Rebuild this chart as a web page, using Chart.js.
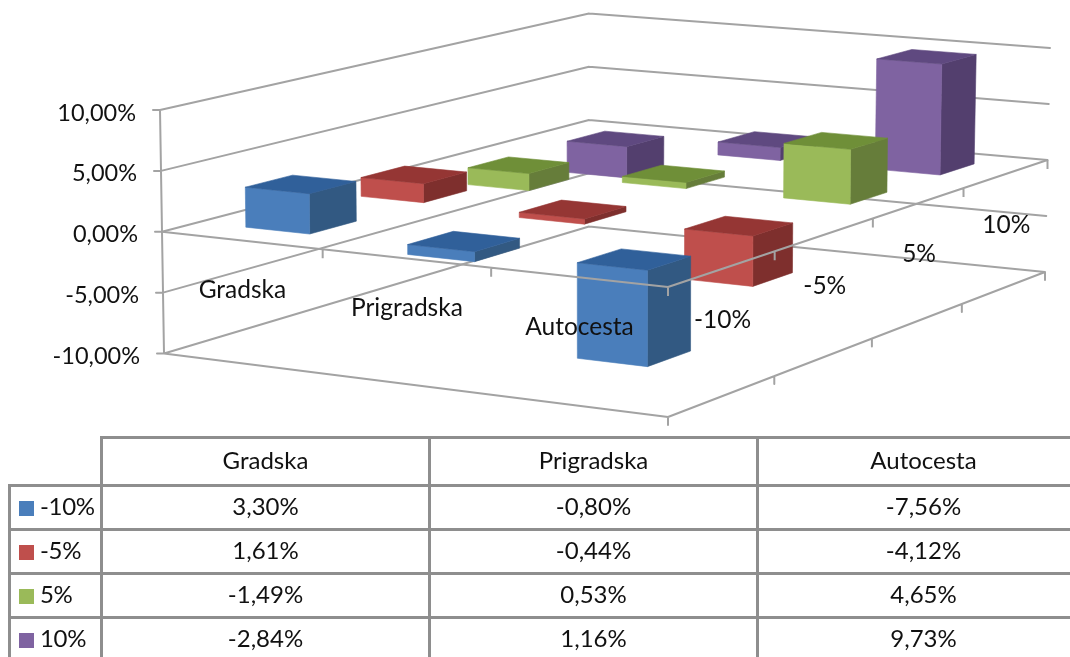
<!DOCTYPE html>
<html><head><meta charset="utf-8">
<script src="https://cdn.jsdelivr.net/npm/chart.js@4"></script>
<style>
html,body{margin:0;padding:0;background:#fff;width:1070px;height:657px;overflow:hidden}
#wrap{position:relative;width:1070px;height:657px;overflow:hidden;font-family:Lato,sans-serif;color:#111}
canvas{position:absolute;left:0;top:0}
table{position:absolute;left:8px;top:435.5px;border-collapse:collapse;table-layout:fixed;width:1080px;font-size:24px;text-align:center}
td{border:3px solid #8e8e8e;padding:0 0 3px 0;height:38px;white-space:nowrap}
td.blank{border-top:none;border-left:none}
td.key{text-align:left;padding-left:8px;letter-spacing:-0.3px}
tr.head td{height:42px}
.sw{display:inline-block;width:15px;height:15px;margin-right:6px;vertical-align:-1px}
</style></head><body>
<div id="wrap"><canvas id="c" width="1070" height="657"></canvas>
<table id="t"><colgroup><col style="width:92px"><col style="width:328px"><col style="width:328px"><col style="width:332px"></colgroup></table></div>
<script>
const categories = ['Gradska', 'Prigradska', 'Autocesta'];
const seriesNames = ['-10%', '-5%', '5%', '10%'];
const valuesMinus10 = [3.30, -0.80, -7.56];
const valuesMinus5 = [1.61, -0.44, -4.12];
const valuesPlus5 = [-1.49, 0.53, 4.65];
const valuesPlus10 = [-2.84, 1.16, 9.73];
const tickValues = [-10, -5, 0, 5, 10];

const FRONT = ['#4a7ebb', '#bf4f4c', '#9aba59', '#7f63a1'];
const SIDE = ['#325982', '#7e2f2d', '#667d3a', '#533f6e'];
const TOP = ['#30609a', '#953634', '#6f8f38', '#5f4980'];
const GRID = '#a3a3a3';
const BAR_HALF = 0.2; // share of one cell on each side of its centre

// Projection frame: wall corners at the lowest and highest value of the axis
const FLOOR = {a:[164,353.5], b:[668,417], c:[1045,272], d:[589,226.5]};
const CEIL  = {a:[160,110],   b:[668,157], c:[1050,48],  d:[589,13.5]};

const fmt = v => v.toFixed(2).replace('.', ',') + '%';
const lerp = (p, q, f) => [p[0] + (q[0]-p[0])*f, p[1] + (q[1]-p[1])*f];

function levelOf(y, value){ return (y.bottom - y.getPixelForValue(value)) / (y.bottom - y.top); }

// unit square -> quad homography at height f
function project(u, v, f){
  const p0 = lerp(FLOOR.a, CEIL.a, f), p1 = lerp(FLOOR.b, CEIL.b, f),
        p2 = lerp(FLOOR.c, CEIL.c, f), p3 = lerp(FLOOR.d, CEIL.d, f);
  const dx1 = p1[0]-p2[0], dx2 = p3[0]-p2[0], sx = p0[0]-p1[0]+p2[0]-p3[0];
  const dy1 = p1[1]-p2[1], dy2 = p3[1]-p2[1], sy = p0[1]-p1[1]+p2[1]-p3[1];
  const den = dx1*dy2 - dx2*dy1;
  const g = (sx*dy2 - dx2*sy)/den, h = (dx1*sy - sx*dy1)/den;
  const a = p1[0]-p0[0]+g*p1[0], b = p3[0]-p0[0]+h*p3[0], c = p0[0];
  const d = p1[1]-p0[1]+g*p1[1], e = p3[1]-p0[1]+h*p3[1], k = p0[1];
  const w = g*u + h*v + 1;
  return [(a*u + b*v + c)/w, (d*u + e*v + k)/w];
}

function poly(ctx, pts, fill){
  ctx.beginPath();
  pts.forEach((p, i) => i ? ctx.lineTo(p[0], p[1]) : ctx.moveTo(p[0], p[1]));
  ctx.closePath();
  ctx.fillStyle = fill; ctx.strokeStyle = fill; ctx.lineWidth = 0.6;
  ctx.fill(); ctx.stroke();
}

class Bar3D extends Chart.BarController {
  draw(){
    const meta = this.getMeta(), ctx = this.chart.ctx;
    const x = meta.iScale, y = meta.vScale, j = this.index, n = seriesNames.length;
    const hu = BAR_HALF / categories.length, hv = BAR_HALF / n;
    const vc = (j + 0.5) / n;
    ctx.save();
    meta.data.forEach((el, i) => {
      const uc = (x.getPixelForValue(i) - x.left) / x.width;
      const val = this.getParsed(i).y;
      const f0 = levelOf(y, 0), f1 = levelOf(y, val);
      const hi = Math.max(f0, f1), lo = Math.min(f0, f1);
      const u0 = uc-hu, u1 = uc+hu, v0 = vc-hv, v1 = vc+hv;
      const P = (u, v, f) => project(u, v, f);
      poly(ctx, [P(u1,v0,lo), P(u1,v1,lo), P(u1,v1,hi), P(u1,v0,hi)], SIDE[j]);
      poly(ctx, [P(u0,v0,lo), P(u1,v0,lo), P(u1,v0,hi), P(u0,v0,hi)], FRONT[j]);
      poly(ctx, [P(u0,v0,hi), P(u1,v0,hi), P(u1,v1,hi), P(u0,v1,hi)], TOP[j]);
    });
    ctx.restore();
  }
}
Bar3D.id = 'bar3d';
Bar3D.defaults = Chart.BarController.defaults;
Chart.register(Bar3D);

function seg(ctx, p, q){ ctx.moveTo(p[0], p[1]); ctx.lineTo(q[0], q[1]); }

const frame = {
  id: 'frame',
  beforeDraw(chart){
    // axis labels follow the slightly slanted wall edge and sit just under their tick
    const y = chart.scales.y;
    if (y.$shifted) return;
    y.getLabelItems().forEach((it, i) => {
      const f = levelOf(y, tickValues[i]);
      it.options.translation[0] += (1 - f) * 4;
      it.options.translation[1] += 3;
    });
    y.$shifted = true;
  },
  beforeDatasetsDraw(chart){
    const ctx = chart.ctx, y = chart.scales.y;
    ctx.save(); ctx.strokeStyle = GRID; ctx.lineWidth = 2; ctx.lineCap = 'round';
    ctx.beginPath();
    tickValues.forEach(t => {
      const f = levelOf(y, t);
      const p = project(0,0,f);
      seg(ctx, [p[0]-7, p[1]], p);
      seg(ctx, p, project(0,1,f));
      seg(ctx, project(0,1,f), project(1,1,f));
    });
    seg(ctx, project(0,0,0), project(0,0,1));
    const f = 0;
    seg(ctx, project(0,0,f), project(1,0,f));
    seg(ctx, project(1,0,f), project(1,1,f));
    // floor ticks along the depth edge
    for (let j = 0; j <= seriesNames.length; j++){
      const p = project(1, j/seriesNames.length, f);
      seg(ctx, p, [p[0], p[1]+8]);
    }
    ctx.stroke(); ctx.restore();
  },
  afterDatasetsDraw(chart){
    const ctx = chart.ctx, y = chart.scales.y, f0 = levelOf(y, 0);
    const nc = categories.length, ns = seriesNames.length;
    ctx.save(); ctx.strokeStyle = GRID; ctx.lineWidth = 2;
    ctx.beginPath();
    seg(ctx, project(0,0,f0), project(1,0,f0));
    seg(ctx, project(1,0,f0), project(1,1,f0));
    for (let i = 1; i <= nc; i++){ const p = project(i/nc,0,f0); seg(ctx, p, [p[0], p[1]+9]); }
    for (let j = 1; j <= ns; j++){ const p = project(1,j/ns,f0); seg(ctx, p, [p[0], p[1]+9]); }
    ctx.stroke();
    ctx.fillStyle = '#111'; ctx.font = '24.5px Lato'; ctx.textAlign = 'center'; ctx.textBaseline = 'middle';
    categories.forEach((c, i) => {
      const p = project((i+0.5)/nc, 0, f0);
      ctx.fillText(c, p[0] + 1, p[1] + 49.5);
    });
    seriesNames.forEach((s, j) => {
      const p = project(1, (j+0.5)/ns, f0);
      ctx.fillText(s, p[0], p[1] + 51.5);
    });
    ctx.restore();
  }
};

new Chart(document.getElementById('c'), {
  type: 'bar3d',
  data: {
    labels: categories,
    datasets: [
      {label: seriesNames[0], data: valuesMinus10, backgroundColor: FRONT[0], clip: false},
      {label: seriesNames[1], data: valuesMinus5, backgroundColor: FRONT[1], clip: false},
      {label: seriesNames[2], data: valuesPlus5, backgroundColor: FRONT[2], clip: false},
      {label: seriesNames[3], data: valuesPlus10, backgroundColor: FRONT[3], clip: false}
    ]
  },
  options: {
    responsive: false, animation: false, devicePixelRatio: 1,
    layout: {padding: {top: 110, bottom: 303.5, left: 0, right: 20}},
    plugins: {legend: {display: false}, tooltip: {enabled: false}},
    scales: {
      x: {type: 'category', display: false, offset: true},
      y: {
        type: 'linear', min: -10, max: 10, position: 'left',
        afterFit(s){ s.width = 160; },
        afterBuildTicks(s){ s.ticks = tickValues.map(v => ({value: v})); },
        border: {display: false},
        grid: {drawOnChartArea: false, drawTicks: false},
        ticks: {color: '#111', font: {family: 'Lato', size: 23.5}, padding: 24, callback: v => fmt(v)}
      }
    }
  },
  plugins: [frame]
});

// data table under the plot
const t = document.getElementById('t');
let html = '<tr class="head"><td class="blank"></td>' + categories.map(c => '<td>' + c + '</td>').join('') + '</tr>';
[valuesMinus10, valuesMinus5, valuesPlus5, valuesPlus10].forEach((row, j) => {
  html += '<tr><td class="key"><span class="sw" style="background:' + FRONT[j] + '"></span>' + seriesNames[j] + '</td>' +
    row.map(v => '<td>' + fmt(v) + '</td>').join('') + '</tr>';
});
t.insertAdjacentHTML('beforeend', html);
</script></body></html>
